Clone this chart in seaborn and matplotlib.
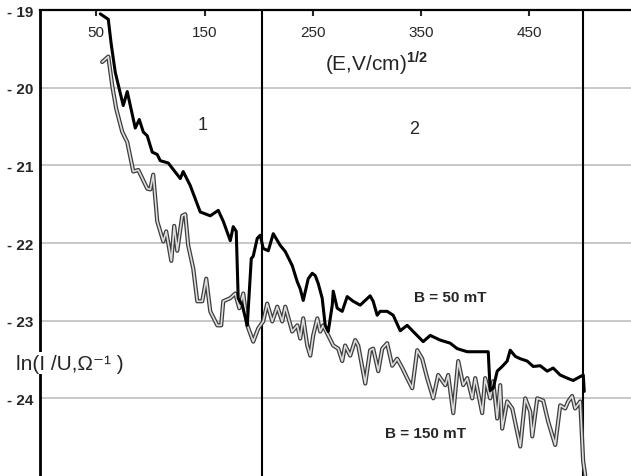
import matplotlib
matplotlib.use("Agg")
import matplotlib.pyplot as plt
import numpy as np
import pandas as pd
import seaborn as sns

# readings from the reference (x = field^(1/2), y = ln conductance)
b50_x = [53.7, 61.1, 63.8, 67.5, 74.9, 78.6, 86.0, 89.7, 93.4, 97.1, 101.7, 106.3,
         109.1, 116.5, 127.6, 130.3, 136.8, 146.0, 155.3, 162.7, 167.3, 173.8, 176.5,
         179.3, 181.1, 184.8, 189.5, 193.2, 195.0, 198.7, 201.5, 204.2, 208.9, 213.5,
         219.9, 224.6, 231.0, 235.7, 238.4, 241.2, 245.8, 249.5, 252.3, 255.0, 258.7,
         261.5, 264.3, 268.0, 268.9, 272.6, 277.2, 281.8, 287.3, 293.8, 303.0, 305.8,
         309.5, 312.3, 318.7, 324.3, 330.8, 337.2, 342.8, 352.0, 358.5, 367.7, 377.0,
         383.4, 392.7, 398.2, 407.5, 412.1, 413.9, 416.7, 420.4, 425.0, 429.6, 432.4,
         437.1, 441.7, 448.1, 453.7, 460.1, 466.6, 472.1, 478.6, 485.1, 490.6, 497.1,
         499.9, 500.8]
b50_y = [-19.05, -19.12, -19.44, -19.80, -20.23, -20.05, -20.52, -20.41, -20.57, -20.62,
         -20.83, -20.86, -20.94, -20.97, -21.17, -21.08, -21.26, -21.60, -21.65, -21.58,
         -21.72, -21.97, -21.79, -21.85, -22.71, -22.80, -23.06, -22.20, -22.17, -21.94,
         -21.90, -22.07, -22.10, -21.88, -22.03, -22.11, -22.29, -22.50, -22.59, -22.74,
         -22.46, -22.39, -22.42, -22.52, -22.71, -23.06, -23.14, -22.80, -22.62, -22.84,
         -22.88, -22.69, -22.75, -22.80, -22.68, -22.75, -22.93, -22.88, -22.88, -22.93,
         -23.13, -23.06, -23.14, -23.27, -23.19, -23.25, -23.29, -23.36, -23.40, -23.40,
         -23.40, -23.40, -23.90, -23.87, -23.65, -23.59, -23.52, -23.38, -23.46, -23.49,
         -23.52, -23.59, -23.58, -23.65, -23.61, -23.70, -23.74, -23.77, -23.72, -23.70,
         -23.91]

b150_x = [55.4, 61.1, 64.8, 68.4, 74.0, 78.6, 84.2, 88.8, 97.1, 99.9, 102.6, 106.3,
          111.9, 114.6, 119.3, 122.0, 124.8, 129.4, 132.2, 134.9, 139.6, 143.3, 147.9,
          151.6, 155.3, 161.8, 165.4, 167.3, 173.8, 178.4, 182.1, 185.8, 189.5, 195.0,
          199.6, 204.2, 207.9, 212.6, 217.2, 221.8, 224.6, 231.0, 235.7, 238.4, 241.2,
          244.9, 247.7, 250.4, 254.2, 256.9, 259.6, 264.3, 268.9, 273.5, 277.2, 279.9,
          284.6, 289.2, 292.0, 298.5, 303.0, 305.8, 310.5, 314.2, 318.7, 323.4, 328.0,
          332.7, 337.2, 341.9, 346.5, 351.1, 355.7, 361.3, 365.9, 372.4, 375.1, 379.8,
          384.4, 389.0, 392.7, 397.3, 400.1, 406.5, 409.3, 413.9, 416.7, 420.4, 423.2,
          425.0, 429.6, 434.3, 441.7, 446.3, 450.9, 452.8, 457.4, 462.9, 467.5, 474.0,
          478.6, 483.2, 486.0, 489.6, 492.4, 497.1, 499.8, 501.7]
b150_y = [-19.67, -19.60, -19.98, -20.27, -20.57, -20.70, -21.08, -21.06, -21.30, -21.31,
          -21.12, -21.72, -21.98, -21.85, -22.23, -21.78, -22.10, -21.65, -21.63, -22.03,
          -22.33, -22.75, -22.75, -22.46, -22.88, -23.06, -23.06, -22.75, -22.71, -22.65,
          -22.84, -22.65, -23.06, -23.27, -23.10, -23.01, -22.78, -23.01, -22.82, -23.01,
          -22.82, -23.14, -23.06, -23.23, -22.97, -23.32, -23.45, -23.19, -22.97, -23.14,
          -23.06, -23.19, -23.32, -23.36, -23.52, -23.32, -23.45, -23.25, -23.32, -23.81,
          -23.38, -23.36, -23.65, -23.36, -23.29, -23.58, -23.49, -23.61, -23.74, -23.87,
          -23.38, -23.49, -23.74, -24.00, -23.70, -23.83, -23.70, -24.19, -23.52, -23.83,
          -23.74, -24.00, -23.74, -24.19, -23.74, -24.00, -23.78, -24.26, -23.83, -24.39,
          -24.04, -24.13, -24.62, -24.00, -24.17, -24.49, -24.00, -24.03, -24.30, -24.60,
          -24.09, -24.13, -24.04, -23.97, -24.13, -24.04, -24.81, -24.99]

x_ticks = [50, 150, 250, 350, 450]
y_ticks = [-19, -20, -21, -22, -23, -24]
y_tick_labels = ["- 19", "- 20", "- 21", "- 22", "- 23", "- 24"]
region_bounds = [203, 500]

df50 = pd.DataFrame({"x": b50_x, "y": b50_y})
df150 = pd.DataFrame({"x": b150_x, "y": b150_y})

sns.set_style("white")
plt.rcParams["font.family"] = ["Liberation Sans", "DejaVu Sans"]
plt.rcParams["mathtext.fontset"] = "custom"
plt.rcParams["mathtext.rm"] = "Liberation Sans"
plt.rcParams["mathtext.bf"] = "Liberation Sans:bold"

fig = plt.figure(figsize=(6.31, 4.77), dpi=100)
ax = fig.add_axes([40 / 631, 0, 591 / 631, 466 / 477])

for yv in y_ticks[1:]:
    ax.axhline(yv, color="#c8c8c8", lw=1.4, zorder=0)
for xv in region_bounds:
    ax.axvline(xv, color="black", lw=1.5, zorder=1)

# B = 150 mT drawn as a hollow line
sns.lineplot(data=df150, x="x", y="y", sort=False, estimator=None, ax=ax,
             color="#3c3c3c", lw=3.0, zorder=2, solid_joinstyle="round")
sns.lineplot(data=df150, x="x", y="y", sort=False, estimator=None, ax=ax,
             color="#dedede", lw=1.2, zorder=2.1, solid_joinstyle="round")
sns.lineplot(data=df50, x="x", y="y", sort=False, estimator=None, ax=ax,
             color="black", lw=2.2, zorder=2.2)

ax.set_xlim(-2, 544)
ax.set_ylim(-25, -19)

ax.xaxis.tick_top()
ax.set_xticks(x_ticks)
ax.tick_params(axis="x", direction="in", length=4, width=1.5, pad=-21, labelsize=11)
ax.set_yticks(y_ticks)
ax.set_yticklabels(y_tick_labels, fontweight="bold")
ax.tick_params(axis="y", length=0, pad=5, labelsize=11)
ax.set_xlabel("")
ax.set_ylabel("")

for side in ["right", "bottom"]:
    ax.spines[side].set_visible(False)
ax.spines["left"].set_linewidth(2)
ax.spines["top"].set_linewidth(1.6)
ax.spines["left"].set_color("black")
ax.spines["top"].set_color("black")

ax.text(309, -19.67, r"(E,V/cm)$^{\mathbf{1/2}}$", fontsize=15, ha="center", va="center")
ax.text(148, -20.47, "1", fontsize=13, ha="center", va="center")
ax.text(344, -20.53, "2", fontsize=13, ha="center", va="center")
ax.text(377, -22.69, "B = 50 mT", fontsize=11, ha="center", va="center", fontweight="bold")
ax.text(354, -24.45, "B = 150 mT", fontsize=11, ha="center", va="center", fontweight="bold")
ax.text(26, -23.55, "ln(I /U,Ω⁻¹ )", fontsize=15, ha="center", va="center", zorder=5,
        clip_on=False, bbox=dict(facecolor="white", edgecolor="none", pad=1))

fig.savefig("out.png", dpi=100)
